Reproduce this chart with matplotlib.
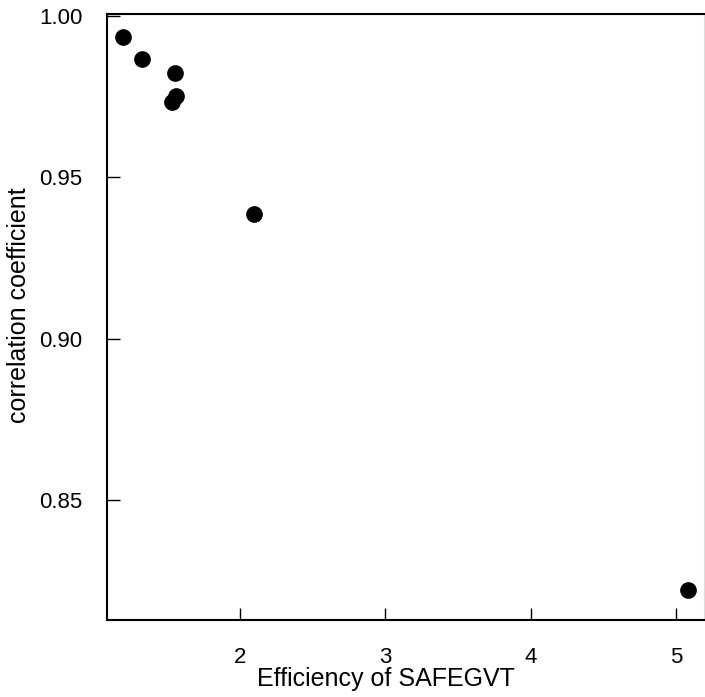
import matplotlib
matplotlib.use('Agg')
import matplotlib.pyplot as plt

# values
efficiency = [1.197, 1.327, 1.554, 1.561, 1.533, 2.096, 5.082]
corr_coef = [0.9933, 0.9865, 0.9822, 0.9751, 0.9732, 0.9385, 0.8221]

x_ticks = [2, 3, 4, 5]
y_ticks = [0.85, 0.90, 0.95, 1.00]
y_ticklabels = ['0.85', '0.90', '0.95', '1.00']

plt.rcParams['font.family'] = ['Liberation Sans', 'DejaVu Sans']

fig = plt.figure(figsize=(7.05, 6.97), dpi=100)
ax = fig.add_axes([0.152, 0.110, 0.846, 0.870])

ax.plot(efficiency, corr_coef, 'o', color='black', markersize=11, clip_on=False)

ax.set_xlim(1.087, 5.19)
ax.set_ylim(0.8128, 1.0005)
ax.set_xticks(x_ticks)
ax.set_yticks(y_ticks)
ax.set_yticklabels(y_ticklabels)

ax.tick_params(axis='both', direction='in', length=9, width=1.0, labelsize=16, color='black')
ax.tick_params(axis='y', pad=18)
ax.tick_params(axis='x', pad=19)

for name in ['left', 'bottom', 'top']:
    ax.spines[name].set_linewidth(1.5)
ax.spines['right'].set_color('#dddddd')
ax.spines['right'].set_linewidth(0.8)

ax.set_xlabel('Efficiency of SAFEGVT', fontsize=18)
ax.set_ylabel('correlation coefficient', fontsize=18)
ax.xaxis.set_label_coords(0.467, -0.077)
ax.yaxis.set_label_coords(-0.128, 0.52)

fig.savefig('out.png', dpi=100)
